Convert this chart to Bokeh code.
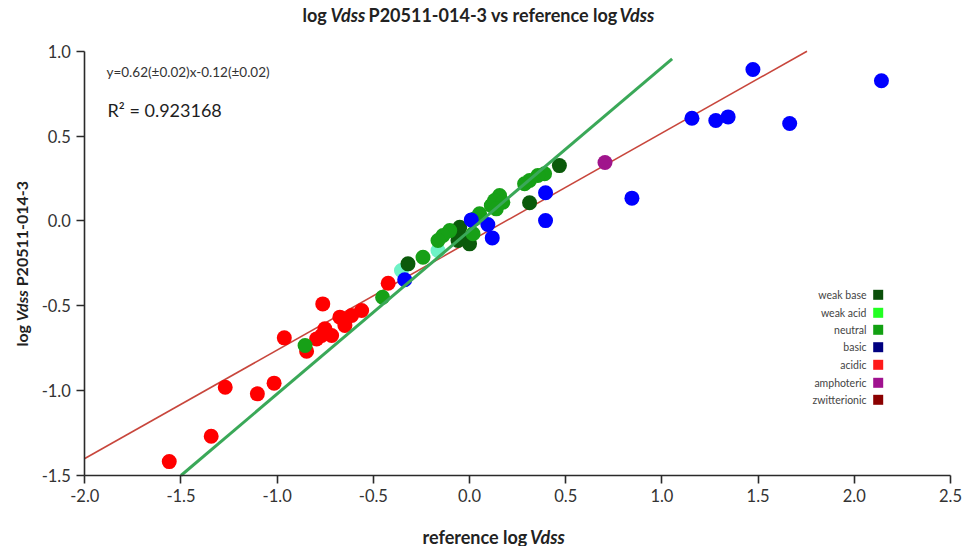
import math
from bokeh.plotting import figure
from bokeh.models import Label, Range1d, FixedTicker
from bokeh.core.properties import value
from bokeh.embed import file_html
from bokeh.resources import INLINE

# ---------------- data ----------------
x_ticks = [-2.0, -1.5, -1.0, -0.5, 0.0, 0.5, 1.0, 1.5, 2.0, 2.5]
x_tick_labels = ["-2.0", "-1.5", "-1.0", "-0.5", "0.0", "0.5", "1.0", "1.5", "2.0", "2.5"]
y_ticks = [-1.5, -1.0, -0.5, 0.0, 0.5, 1.0]
y_tick_labels = ["-1.5", "-1.0", "-0.5", "0.0", "0.5", "1.0"]

acidic_x = [-0.423, -0.763, -0.561, -0.613, -0.674, -0.648, -0.717, -0.769, -0.752, -0.795,
            -0.847, -0.963, -1.016, -1.103, -1.270, -1.343, -1.561]
acidic_y = [-0.367, -0.489, -0.528, -0.557, -0.567, -0.616, -0.675, -0.675, -0.636, -0.695,
            -0.768, -0.689, -0.956, -1.019, -0.980, -1.269, -1.418]
weak_acid_x = [-0.164, -0.354]
weak_acid_y = [-0.174, -0.292]
weak_base_x = [0.467, 0.312, -0.051, -0.026, 0.000, -0.060, -0.320]
weak_base_y = [0.326, 0.107, -0.037, -0.105, -0.135, -0.115, -0.253]
neutral_x = [0.390, 0.355, 0.312, 0.286, 0.156, 0.130, 0.113, 0.173, 0.139, 0.052, 0.026,
             0.018, -0.103, -0.138, -0.164, -0.242, -0.452, -0.855]
neutral_y = [0.278, 0.268, 0.238, 0.219, 0.150, 0.120, 0.091, 0.110, 0.071, 0.042, 0.012,
             -0.076, -0.057, -0.086, -0.115, -0.214, -0.450, -0.734]
basic_x = [1.473, 2.141, 1.156, 1.280, 1.344, 1.664, 0.844, 0.395, 0.395, 0.009, 0.095, 0.118, -0.337]
basic_y = [0.892, 0.826, 0.605, 0.592, 0.613, 0.574, 0.134, 0.166, 0.002, 0.006, -0.021, -0.100, -0.347]
amphoteric_x = [0.704]
amphoteric_y = [0.344]
zwitterionic_x = []
zwitterionic_y = []

fit_x = [-2.0, 1.754]          # red regression line end points
fit_y = [-1.40, 1.00]
identity_x = [-1.50, 1.053]    # green line end points
identity_y = [-1.50, 0.955]

legend_labels = ["weak base", "weak acid", "neutral", "basic", "acidic", "amphoteric", "zwitterionic"]
legend_colors = ["#0a4f0a", "#22ff22", "#12a012", "#000080", "#ff1a1a", "#a0128f", "#8b0000"]

equation_text = "y=0.62(\u00b10.02)x-0.12(\u00b10.02)"
r2_text = "R\u00b2 = 0.923168"

# ---------------- layout ----------------
W, H = 962, 546
OX, OY = 0, 0
AX_L, AX_R = 84.3, 950.0         # screen x of -2.0 and 2.5
AX_T, AX_B = 50.7, 475.0         # screen y of 1.0 and -1.5
X0, X1, Y0, Y1 = -2.0, 2.5, -1.5, 1.0
kx = (AX_R - AX_L) / (X1 - X0)
ky = (AX_B - AX_T) / (Y1 - Y0)
xr = Range1d(X0 - (AX_L - OX) / kx, X1 + (OX + W - AX_R) / kx)
yr = Range1d(Y0 - (OY + H - AX_B) / ky, Y1 + (AX_T - OY) / ky)


def sx(px):
    return X0 + (px - AX_L) / kx


def sy(py):
    return Y1 - (py - AX_T) / ky


FONT = "Lato"

p = figure(width=W, height=H, x_range=xr, y_range=yr,
           output_backend="svg", toolbar_location=None, title=None,
           min_border_left=0, min_border_right=0, min_border_top=0, min_border_bottom=0)
p.outline_line_color = None
p.xgrid.visible = False
p.ygrid.visible = False
p.background_fill_color = "white"
p.border_fill_color = "white"

p.xaxis.fixed_location = Y0
p.yaxis.fixed_location = X0
p.xaxis.bounds = (X0, X1)
p.yaxis.bounds = (Y0, Y1)

for ax, ticks, labels in ((p.xaxis, x_ticks, x_tick_labels), (p.yaxis, y_ticks, y_tick_labels)):
    ax.ticker = FixedTicker(ticks=ticks)
    ax.major_label_overrides = {t: l for t, l in zip(ticks, labels)}
    ax.axis_line_color = "#2a2a2a"
    ax.axis_line_width = 1.6
    ax.major_tick_line_color = "#2a2a2a"
    ax.major_tick_line_width = 1.6
    ax.major_tick_out = 8
    ax.major_tick_in = 0
    ax.minor_tick_out = 0
    ax.minor_tick_in = 0
    ax.major_label_text_font = FONT
    ax.major_label_text_font_size = "16.5px"
    ax.major_label_text_color = "#333333"
p.xaxis.major_label_standoff = 5
p.yaxis.major_label_standoff = 6

# regression line (under points)
p.line(fit_x, fit_y, line_color="#c8463c", line_width=1.6)

SZ = 15
p.scatter(acidic_x, acidic_y, size=SZ, fill_color="#ff0000", line_color=None)
p.scatter(weak_acid_x, weak_acid_y, size=SZ, fill_color="#6ef2c6", line_color=None)
p.scatter(weak_base_x, weak_base_y, size=SZ, fill_color="#0b5a0b", line_color=None)
p.scatter(neutral_x, neutral_y, size=SZ, fill_color="#17a017", line_color=None)
p.scatter(basic_x, basic_y, size=SZ, fill_color="#0000ff", line_color=None)
p.scatter(amphoteric_x, amphoteric_y, size=SZ, fill_color="#a0158c", line_color=None)
p.scatter(zwitterionic_x, zwitterionic_y, size=SZ, fill_color="#8b0000", line_color=None)

# green line on top
p.line(identity_x, identity_y, line_color="#3aa858", line_width=3)

# legend (text right aligned, square to the right)
leg_rows = [294.3, 312.3, 329.3, 346.7, 364.3, 382.3, 399.3]
p.text(x=[sx(866)] * len(legend_labels), y=[sy(r) for r in leg_rows], text=legend_labels,
       text_align="right", text_baseline="middle", text_font=value(FONT),
       text_font_size="10.5px", text_color="#444444")
p.scatter(x=[sx(877.7)] * len(legend_labels), y=[sy(r) for r in leg_rows], marker="square",
          size=10, fill_color=legend_colors, line_color=None)


def lab(text, px, py, size, style="normal", align="left", angle=0.0, color="#222222"):
    p.add_layout(Label(x=sx(px), y=sy(py), text=text, text_font=FONT, text_font_size=size,
                       text_font_style=style, text_align=align, text_baseline="middle",
                       angle=angle, text_color=color))


# annotations
lab(equation_text, 106, 71.7, "13.5px", color="#333333")
lab(r2_text, 107, 109, "18px", color="#1e1e1e")

# title: log Vdss P20511-014-3 vs reference log Vdss
ty = 14
lab("log", 302, ty, "18px", "bold")
lab("Vdss", 330, ty, "18px", "bold italic")
lab("P20511-014-3 vs reference log", 368, ty, "18px", "bold")
lab("Vdss", 619, ty, "18px", "bold italic")

# x axis label: reference log Vdss
xy = 536
lab("reference log", 422, xy, "18px", "bold")
lab("Vdss", 529.5, xy, "18px", "bold italic")

# y axis label (rotated): log Vdss P20511-014-3
yx = 21
lab("log", yx, 346, "16px", "bold", angle=math.pi / 2)
lab("Vdss", yx, 320.7, "16px", "bold italic", angle=math.pi / 2)
lab("P20511-014-3", yx, 285.8, "16px", "bold", angle=math.pi / 2)

open("out.html", "w").write(file_html(p, INLINE))
